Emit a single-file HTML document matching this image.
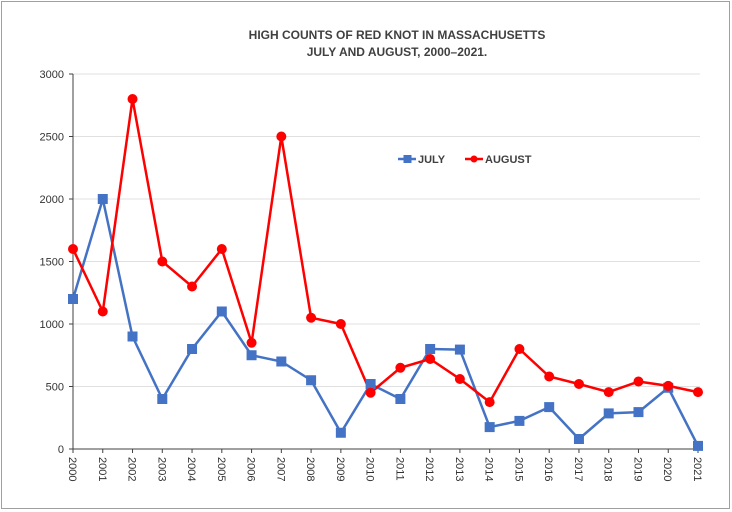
<!DOCTYPE html>
<html><head><style>body{margin:0;background:#fff}svg{display:block;font-family:"Liberation Sans",sans-serif}</style></head><body>
<svg width="732" height="512" viewBox="0 0 732 512">
<rect x="1.5" y="1.5" width="728" height="507" fill="#fff" stroke="#a0a0a0"/>
<text x="397" y="39" text-anchor="middle" font-size="12" font-weight="bold" fill="#404040">HIGH COUNTS OF RED KNOT IN MASSACHUSETTS</text>
<text x="397" y="56" text-anchor="middle" font-size="12" font-weight="bold" fill="#404040">JULY AND AUGUST, 2000–2021.</text>
<g stroke="#e0e0e0" stroke-width="1">
<line x1="73" y1="74" x2="700" y2="74"/><line x1="73" y1="136.5" x2="700" y2="136.5"/><line x1="73" y1="199" x2="700" y2="199"/><line x1="73" y1="261.5" x2="700" y2="261.5"/><line x1="73" y1="324" x2="700" y2="324"/><line x1="73" y1="386.5" x2="700" y2="386.5"/>
</g>
<g stroke="#404040" stroke-width="1">
<line x1="73" y1="74" x2="73" y2="449"/><line x1="73" y1="449" x2="700" y2="449"/>
<line x1="69" y1="74" x2="73" y2="74"/><line x1="69" y1="136.5" x2="73" y2="136.5"/><line x1="69" y1="199" x2="73" y2="199"/><line x1="69" y1="261.5" x2="73" y2="261.5"/><line x1="69" y1="324" x2="73" y2="324"/><line x1="69" y1="386.5" x2="73" y2="386.5"/><line x1="69" y1="449" x2="73" y2="449"/>
</g>
<g font-size="11" fill="#333" text-anchor="end">
<text x="64" y="78">3000</text><text x="64" y="140.5">2500</text><text x="64" y="203">2000</text><text x="64" y="265.5">1500</text><text x="64" y="328">1000</text><text x="64" y="390.5">500</text><text x="64" y="453">0</text>
</g>
<g id="xt" stroke="#404040"></g>
<g id="xl" font-size="11" fill="#333"></g>
<polyline fill="none" stroke="#4472c4" stroke-width="2.5" points="73,299 102.8,199 132.5,336.5 162.3,399 192,349 221.8,311.5 251.6,355.25 281.3,361.5 311.1,380.25 340.9,432.75 370.6,384 400.4,399 430.1,349 459.9,349.6 489.7,427.1 519.4,420.9 549.2,407.1 578.9,439 608.7,413.4 638.5,412.1 668.2,387.75 698,445.9"/>
<polyline fill="none" stroke="#ff0000" stroke-width="2.5" points="73,249 102.8,311.5 132.5,99 162.3,261.5 192,286.5 221.8,249 251.6,342.75 281.3,136.5 311.1,317.75 340.9,324 370.6,392.75 400.4,367.75 430.1,359 459.9,379 489.7,402.1 519.4,349 549.2,376.5 578.9,384 608.7,392.1 638.5,381.5 668.2,385.9 698,392.1"/>
<g id="mk"></g>
<line x1="398" y1="159" x2="416" y2="159" stroke="#4472c4" stroke-width="2.5"/><rect x="403.5" y="155" width="8" height="8" fill="#4472c4"/>
<text x="418" y="163" font-size="11" font-weight="bold" fill="#404040">JULY</text>
<line x1="465" y1="159" x2="483" y2="159" stroke="#ff0000" stroke-width="2.5"/><circle cx="474" cy="159" r="3.5" fill="#ff0000"/>
<text x="485" y="163" font-size="11" font-weight="bold" fill="#404040">AUGUST</text>
</svg>
<script>
var ns="http://www.w3.org/2000/svg";
var J=[299,199,336.5,399,349,311.5,355.25,361.5,380.25,432.75,384,399,349,349.6,427.1,420.9,407.1,439,413.4,412.1,387.75,445.9];
var A=[249,311.5,99,261.5,286.5,249,342.75,136.5,317.75,324,392.75,367.75,359,379,402.1,349,376.5,384,392.1,381.5,385.9,392.1];
var xt=document.getElementById("xt"),xl=document.getElementById("xl"),mk=document.getElementById("mk");
for(var i=0;i<22;i++){var x=73+i*625/21;
var l=document.createElementNS(ns,"line");l.setAttribute("x1",x);l.setAttribute("x2",x);l.setAttribute("y1",449);l.setAttribute("y2",453);xt.appendChild(l);
var t=document.createElementNS(ns,"text");t.setAttribute("transform","translate("+(x-4)+",457) rotate(90)");t.textContent=2000+i;xl.appendChild(t);
var r=document.createElementNS(ns,"rect");r.setAttribute("x",x-5);r.setAttribute("y",J[i]-5);r.setAttribute("width",10);r.setAttribute("height",10);r.setAttribute("fill","#4472c4");mk.appendChild(r);
var c=document.createElementNS(ns,"circle");c.setAttribute("cx",x);c.setAttribute("cy",A[i]);c.setAttribute("r",5);c.setAttribute("fill","#ff0000");mk.appendChild(c);}
</script>
</body></html>
